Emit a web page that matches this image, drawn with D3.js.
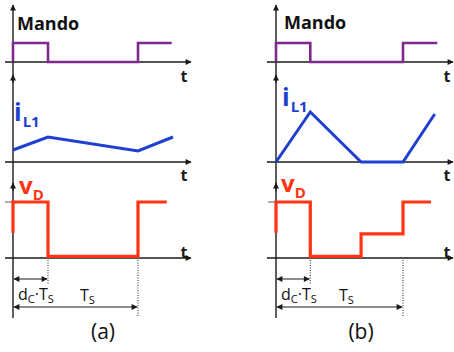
<!DOCTYPE html>
<html>
<head>
<meta charset="utf-8">
<script src="https://cdn.jsdelivr.net/npm/d3@7"></script>
<style>
  body { margin: 0; background: #fff; }
  svg { display: block; font-family: "Open Sans", "DejaVu Sans", sans-serif; }
</style>
</head>
<body>
<svg id="chart" width="454" height="352"></svg>
<script>
// time is in periods (0 = start, 1 = Ts), levels are normalised 0..1
var panels = ["(a)", "(b)"];
var dutyA = 0.28, dutyB = 0.27;

var mandoA = [[0,0],[0,1],[0.28,1],[0.28,0],[1,0],[1,1],[1.27,1]];
var mandoB = [[0,0],[0,1],[0.27,1],[0.27,0],[1,0],[1,1],[1.27,1]];

var iL1A = [[0,0.24],[0.28,0.5],[1,0.22],[1.28,0.5]];
var iL1B = [[0,0],[0.27,1],[0.67,0],[1,0],[1.25,0.96]];

var vDA = [[0,0.45],[0,1],[0.28,1],[0.28,0.03],[1,0.03],[1,1],[1.23,1]];
var vDB = [[0,0.45],[0,1],[0.27,1],[0.27,0.03],[0.67,0.03],[0.67,0.43],[1,0.43],[1,1],[1.22,1]];

var svg = d3.select("#chart");
var axisCol = "#1a1a1a",
    mandoCol = "#7d2a8c",
    iCol = "#1f3fd0",
    vCol = "#ff3412";

var defs = svg.append("defs");
defs.append("marker").attr("id", "ah")
    .attr("viewBox", "0 0 10 10").attr("refX", 9).attr("refY", 5)
    .attr("markerWidth", 7).attr("markerHeight", 6).attr("markerUnits", "userSpaceOnUse")
    .attr("orient", "auto-start-reverse")
  .append("path").attr("d", "M0,0L10,5L0,10z").attr("fill", axisCol);

// row y scales
var yMando = d3.scaleLinear().domain([0, 1]).range([62, 43]);
var yI = d3.scaleLinear().domain([0, 1]).range([162, 112]);
var yV = d3.scaleLinear().domain([0, 1]).range([258, 202]);

var cfg = [
  {x0: 13, span: 125, axL: 5, axR: 191, d: dutyA, mando: mandoA, iL1: iL1A, vD: vDA,
   tX: 184, mandoLbl: [17, 30], iLbl: [14, 121], vLbl: [19, 194], dcX: 18, tsX: 80},
  {x0: 276, span: 127, axL: 267, axR: 453, d: dutyB, mando: mandoB, iL1: iL1B, vD: vDB,
   tX: 447, mandoLbl: [284, 29], iLbl: [282, 106], vLbl: [281, 192], dcX: 281, tsX: 339}
];

cfg.forEach(function(c, k) {
  var x = d3.scaleLinear().domain([0, 1]).range([c.x0, c.x0 + c.span]);
  var g = svg.append("g");

  // vertical axis with three arrow heads
  g.append("line").attr("x1", c.x0).attr("x2", c.x0).attr("y1", 318).attr("y2", 5)
    .attr("stroke", axisCol).attr("stroke-width", 1.4).attr("marker-end", "url(#ah)");
  [75, 183].forEach(function(yy) {
    g.append("line").attr("x1", c.x0).attr("x2", c.x0).attr("y1", yy + 8).attr("y2", yy)
      .attr("stroke", axisCol).attr("stroke-width", 1.4).attr("marker-end", "url(#ah)");
  });

  // horizontal axes
  [yMando(0), yI(0), yV(0)].forEach(function(yy) {
    g.append("line").attr("x1", c.axL).attr("x2", c.axR).attr("y1", yy).attr("y2", yy)
      .attr("stroke", axisCol).attr("stroke-width", 1.4).attr("marker-end", "url(#ah)");
  });

  // small grey tick at vD high level
  g.append("line").attr("x1", c.x0 - 8).attr("x2", c.x0).attr("y1", yV(1)).attr("y2", yV(1))
    .attr("stroke", "#777").attr("stroke-width", 1.2);

  // "t" labels
  [82, 181, 258].forEach(function(yy) {
    g.append("text").attr("x", c.tX).attr("y", yy).attr("text-anchor", "middle")
      .attr("font-size", 16).attr("font-weight", "bold").attr("fill", axisCol).text("t");
  });

  // waveforms
  var line = function(ys) {
    return d3.line().x(function(d) { return x(d[0]); }).y(function(d) { return ys(d[1]); });
  };
  g.append("path").datum(c.mando).attr("d", line(yMando))
    .attr("fill", "none").attr("stroke", mandoCol).attr("stroke-width", 2.6);
  g.append("path").datum(c.iL1).attr("d", line(yI))
    .attr("fill", "none").attr("stroke", iCol).attr("stroke-width", 3);
  g.append("path").datum(c.vD).attr("d", line(yV))
    .attr("fill", "none").attr("stroke", vCol).attr("stroke-width", 3.2);

  // labels
  g.append("text").attr("x", c.mandoLbl[0]).attr("y", c.mandoLbl[1])
    .attr("font-size", 18).attr("font-weight", "bold").attr("fill", "#111").text("Mando");

  var il = g.append("text").attr("x", c.iLbl[0]).attr("y", c.iLbl[1])
    .attr("font-weight", "bold").attr("fill", iCol);
  il.append("tspan").attr("font-size", 25).text("i");
  il.append("tspan").attr("font-size", 15).attr("dy", 6).attr("dx", 1).text("L1");

  var vl = g.append("text").attr("x", c.vLbl[0]).attr("y", c.vLbl[1])
    .attr("font-weight", "bold").attr("fill", vCol);
  vl.append("tspan").attr("font-size", 24).text("v");
  vl.append("tspan").attr("font-size", 15).attr("dy", 6).text("D");

  // dotted guides
  g.append("line").attr("x1", x(c.d)).attr("x2", x(c.d)).attr("y1", 260).attr("y2", 285)
    .attr("stroke", "#222").attr("stroke-width", 1).attr("stroke-dasharray", "1,1.5");
  g.append("line").attr("x1", x(1)).attr("x2", x(1)).attr("y1", 260).attr("y2", 317)
    .attr("stroke", "#222").attr("stroke-width", 1).attr("stroke-dasharray", "1,1.5");

  // dimension arrows
  [[c.d, 279], [1, 307]].forEach(function(a) {
    g.append("line").attr("x1", x(0) + 1).attr("x2", x(a[0]) - 1).attr("y1", a[1]).attr("y2", a[1])
      .attr("stroke", axisCol).attr("stroke-width", 1.2)
      .attr("marker-start", "url(#ah)").attr("marker-end", "url(#ah)");
  });

  var dc = g.append("text").attr("x", c.dcX).attr("y", 300).attr("fill", "#111").attr("font-size", 16);
  dc.append("tspan").text("d");
  dc.append("tspan").attr("font-size", 11).attr("dy", 3).text("C");
  dc.append("tspan").attr("dy", -3).text("\u00b7T");
  dc.append("tspan").attr("font-size", 11).attr("dy", 3).text("S");

  var ts = g.append("text").attr("x", c.tsX).attr("y", 301).attr("fill", "#111").attr("font-size", 16);
  ts.append("tspan").text("T");
  ts.append("tspan").attr("font-size", 11).attr("dy", 3).text("S");

  g.append("text").attr("x", k === 0 ? 103 : 361).attr("y", 339).attr("text-anchor", "middle")
    .attr("font-size", 21).attr("fill", "#111").text(panels[k]);
});

// caption line cut by the bottom edge, as in the source figure
svg.append("text").attr("x", 1).attr("y", 363).attr("font-size", 15).attr("fill", "#111")
  .text("Corriente de entrada y tensión en el diodo del filtro de entrada en");
</script>
</body>
</html>
